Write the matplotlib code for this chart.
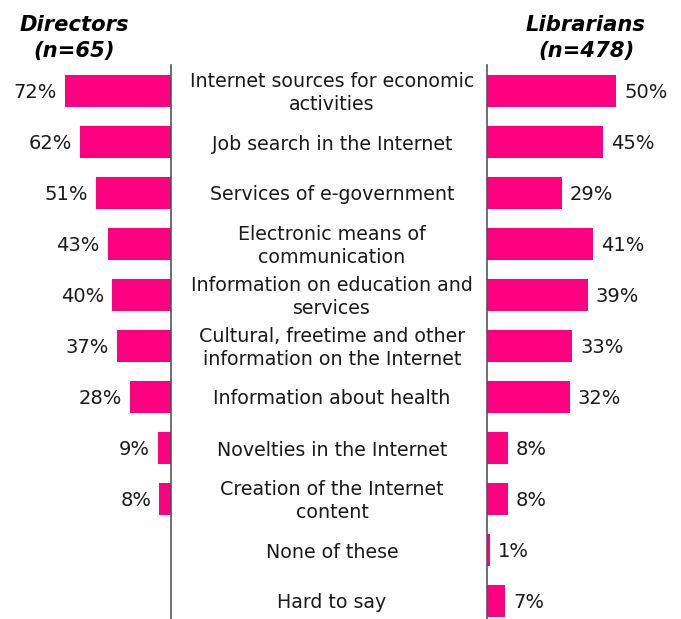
import matplotlib
matplotlib.use("Agg")
import matplotlib.pyplot as plt

categories = [
    "Internet sources for economic\nactivities",
    "Job search in the Internet",
    "Services of e-government",
    "Electronic means of\ncommunication",
    "Information on education and\nservices",
    "Cultural, freetime and other\ninformation on the Internet",
    "Information about health",
    "Novelties in the Internet",
    "Creation of the Internet\ncontent",
    "None of these",
    "Hard to say",
]
directors = [72, 62, 51, 43, 40, 37, 28, 9, 8, None, None]
librarians = [50, 45, 29, 41, 39, 33, 32, 8, 8, 1, 7]

W, H = 681, 619
fig = plt.figure(figsize=(W / 100, H / 100), dpi=100)
color = "#FF0080"
axcol = "#555555"
txtcol = "#1a1a1a"

def fx(px):
    return px / W

def fy(py):
    return 1 - py / H

top_px, bot_px = 65, 619
row0, step = 91, 51
ylim = ((bot_px - row0) / step, (top_px - row0) / step)

# Left axes (Directors)
lx0, lx1 = 0, 171
axL = fig.add_axes([fx(lx0), fy(bot_px), fx(lx1 - lx0), (bot_px - top_px) / H])
scaleL = 1.47
axL.set_xlim((lx1 - lx0) / scaleL, 0)
axL.set_ylim(*ylim)
ys = list(range(len(categories)))
for y, v in zip(ys, directors):
    if v is None:
        continue
    axL.barh(y, v, height=0.63, color=color)
    axL.text(v + 8 / scaleL, y + 0.02, f"{v}%", ha="right", va="center", fontsize=14, color=txtcol)
axL.axis("off")
axL.plot([0, 0], [ylim[0], ylim[1]], color=axcol, lw=1.2, clip_on=False)

# Right axes (Librarians)
rx0, rx1 = 487, 681
axR = fig.add_axes([fx(rx0), fy(bot_px), fx(rx1 - rx0), (bot_px - top_px) / H])
scaleR = 2.58
axR.set_xlim(0, (rx1 - rx0) / scaleR)
axR.set_ylim(*ylim)
for y, v in zip(ys, librarians):
    axR.barh(y, v, height=0.63, color=color)
    axR.text(v + 8 / scaleR, y + 0.02, f"{v}%", ha="left", va="center", fontsize=14, color=txtcol)
axR.axis("off")
axR.plot([0, 0], [ylim[0], ylim[1]], color=axcol, lw=1.2, clip_on=False)

# Category labels in the middle
for y, c in zip(ys, categories):
    py = row0 + step * y
    fig.text(fx(332), fy(py + 2), c, ha="center", va="center", fontsize=13.7,
             color=txtcol, linespacing=1.3)

# Titles
fig.text(fx(74), fy(38), "Directors\n(n=65)", ha="center", va="center",
         fontsize=15.2, fontweight="bold", fontstyle="italic", linespacing=1.35)
fig.text(fx(586), fy(38), "Librarians\n(n=478)", ha="center", va="center",
         fontsize=15.2, fontweight="bold", fontstyle="italic", linespacing=1.35)

fig.savefig("out.png", dpi=100)
